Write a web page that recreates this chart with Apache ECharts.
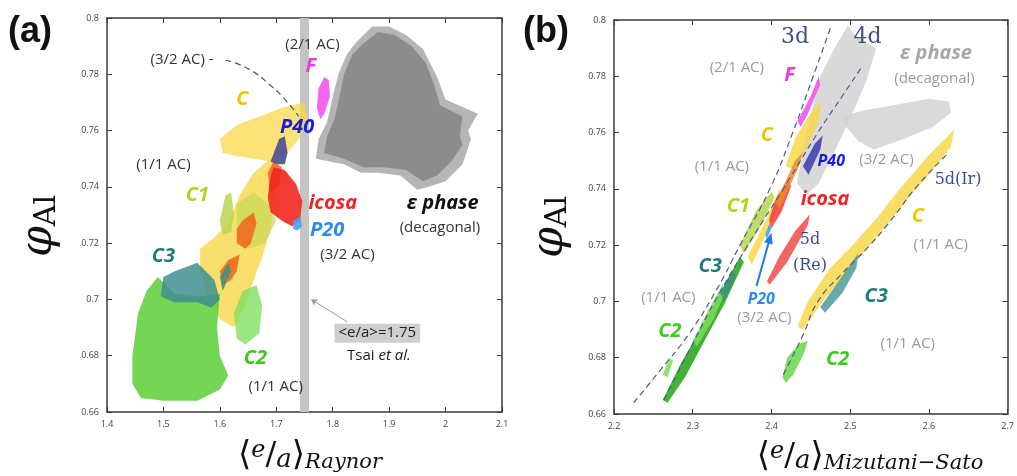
<!DOCTYPE html>
<html>
<head>
<meta charset="utf-8">
<script src="https://cdn.jsdelivr.net/npm/echarts@6/dist/echarts.min.js"></script>
<style>
  html, body { margin: 0; background: #fff; }
  #chart { width: 1017px; height: 476px; }
</style>
</head>
<body>
<div id="chart"></div>
<script>
// ---- panel (a): Raynor e/a vs phi_Al ----
const xTicksA = [1.4, 2.1, 0.1];
const yTicks = [0.66, 0.8, 0.02];

const epsOuterA = [[1.84,0.791],[1.87,0.797],[1.9,0.797],[1.93,0.794],[1.96,0.789],[1.985,0.779],[2.0,0.771],[2.057,0.766],[2.04,0.76],[2.045,0.757],[2.03,0.748],[2.0,0.742],[1.97,0.74],[1.95,0.739],[1.92,0.744],[1.88,0.745],[1.85,0.745],[1.82,0.748],[1.77,0.75],[1.775,0.757],[1.79,0.763],[1.8,0.772],[1.81,0.78],[1.825,0.787]];
const epsInnerA = [[1.855,0.791],[1.88,0.795],[1.91,0.794],[1.94,0.79],[1.965,0.784],[1.98,0.776],[1.99,0.769],[2.03,0.765],[2.025,0.758],[2.03,0.755],[2.01,0.749],[1.985,0.744],[1.96,0.742],[1.93,0.746],[1.89,0.747],[1.855,0.747],[1.82,0.75],[1.785,0.752],[1.79,0.758],[1.803,0.764],[1.812,0.772],[1.82,0.78],[1.835,0.787]];
const bandA = [[1.742,0.66],[1.758,0.66],[1.758,0.8],[1.742,0.8]];
const phaseFA = [[1.785,0.779],[1.793,0.778],[1.795,0.772],[1.785,0.766],[1.778,0.764],[1.772,0.768],[1.775,0.775]];
const yellowTopA = [[1.6,0.757],[1.63,0.762],[1.67,0.765],[1.71,0.768],[1.75,0.77],[1.755,0.764],[1.74,0.757],[1.72,0.752],[1.69,0.749],[1.66,0.75],[1.63,0.751],[1.605,0.752]];
const yellowBandA = [[1.66,0.745],[1.69,0.75],[1.705,0.745],[1.695,0.735],[1.69,0.725],[1.675,0.715],[1.66,0.707],[1.645,0.698],[1.625,0.69],[1.6,0.693],[1.58,0.7],[1.565,0.71],[1.565,0.718],[1.59,0.722],[1.615,0.727],[1.635,0.737]];
const c1BandA = [[1.63,0.734],[1.66,0.738],[1.69,0.733],[1.7,0.728],[1.68,0.72],[1.65,0.718],[1.63,0.722]];
const c1SmallA = [[1.6,0.728],[1.61,0.737],[1.62,0.738],[1.625,0.73],[1.62,0.724],[1.605,0.723]];
const orange1A = [[1.64,0.728],[1.66,0.731],[1.665,0.727],[1.655,0.72],[1.645,0.718],[1.63,0.72],[1.63,0.725]];
const orange2A = [[1.6,0.71],[1.615,0.714],[1.635,0.716],[1.63,0.71],[1.62,0.707],[1.605,0.705]];
const orange3A = [[1.685,0.745],[1.695,0.749],[1.71,0.747],[1.705,0.74],[1.69,0.738]];
const icosaA = [[1.695,0.747],[1.715,0.746],[1.735,0.741],[1.746,0.735],[1.742,0.728],[1.728,0.726],[1.71,0.728],[1.69,0.731],[1.685,0.736],[1.688,0.742]];
const p20A = [[1.73,0.728],[1.742,0.7295],[1.746,0.726],[1.738,0.7245],[1.73,0.725]];
const p40A = [[1.69,0.749],[1.705,0.757],[1.715,0.758],[1.72,0.752],[1.715,0.748],[1.7,0.748]];
const c2BigA = [[1.49,0.708],[1.52,0.702],[1.56,0.701],[1.6,0.702],[1.595,0.69],[1.6,0.68],[1.615,0.673],[1.6,0.668],[1.56,0.664],[1.5,0.664],[1.46,0.665],[1.445,0.67],[1.445,0.68],[1.455,0.695],[1.47,0.703]];
const c3A = [[1.5,0.708],[1.52,0.71],[1.56,0.713],[1.59,0.707],[1.6,0.7],[1.585,0.697],[1.56,0.699],[1.52,0.699],[1.495,0.701]];
const c3StripA = [[1.6,0.708],[1.615,0.713],[1.62,0.71],[1.605,0.703]];
const c2SmallA = [[1.64,0.703],[1.665,0.705],[1.675,0.698],[1.67,0.688],[1.645,0.684],[1.63,0.686],[1.625,0.695]];
const dashA = [[1.61,0.785],[1.65,0.782],[1.69,0.776],[1.72,0.77],[1.74,0.765]];

const acLabelsA = [[1.764,0.7905,'(2/1 AC)'],[1.5,0.748,'(1/1 AC)'],[1.826,0.716,'(3/2 AC)'],[1.699,0.669,'(1/1 AC)'],[1.533,0.785,'(3/2 AC) -'],[1.99,0.7255,'(decagonal)']];

// ---- panel (b): Mizutani-Sato e/a vs phi_Al ----
const xTicksB = [2.2, 2.7, 0.1];

const line3d = [[2.225,0.664],[2.26,0.676],[2.294,0.688],[2.33,0.704],[2.36,0.72],[2.398,0.74],[2.427,0.76],[2.453,0.78],[2.476,0.798]];
const line4d = [[2.263,0.665],[2.3,0.685],[2.328,0.7],[2.37,0.72],[2.415,0.74],[2.459,0.76],[2.49,0.773],[2.514,0.783]];
const line5d = [[2.415,0.674],[2.44,0.688],[2.459,0.7],[2.49,0.71],[2.525,0.72],[2.555,0.73],[2.582,0.74],[2.622,0.752]];

const epsBlobB = [[2.49,0.766],[2.52,0.768],[2.56,0.77],[2.6,0.772],[2.625,0.771],[2.628,0.767],[2.605,0.762],[2.57,0.758],[2.53,0.754],[2.51,0.757],[2.495,0.762]];
const epsStreakB = [[2.432,0.742],[2.445,0.76],[2.462,0.78],[2.48,0.79],[2.497,0.798],[2.505,0.795],[2.52,0.792],[2.533,0.79],[2.52,0.778],[2.5,0.765],[2.478,0.752],[2.46,0.742],[2.445,0.738]];
const phaseFB = [[2.433,0.764],[2.45,0.773],[2.46,0.78],[2.462,0.777],[2.445,0.766],[2.437,0.762]];
const yellowTopB = [[2.418,0.748],[2.43,0.758],[2.45,0.767],[2.463,0.771],[2.46,0.764],[2.445,0.755],[2.428,0.747]];
const yellowLowB = [[2.433,0.691],[2.446,0.7],[2.475,0.712],[2.503,0.72],[2.535,0.73],[2.563,0.74],[2.6,0.752],[2.632,0.761],[2.628,0.755],[2.6,0.745],[2.584,0.74],[2.555,0.73],[2.525,0.72],[2.495,0.71],[2.465,0.7],[2.44,0.69]];
const yellowMidB = [[2.37,0.716],[2.395,0.73],[2.41,0.74],[2.413,0.737],[2.395,0.725],[2.375,0.713]];
const c3RightB = [[2.462,0.698],[2.48,0.705],[2.5,0.713],[2.51,0.717],[2.508,0.712],[2.49,0.703],[2.468,0.696]];
const c2RightB = [[2.414,0.673],[2.42,0.68],[2.435,0.685],[2.446,0.686],[2.442,0.682],[2.428,0.674],[2.418,0.671]];
const re5dB = [[2.394,0.707],[2.41,0.716],[2.43,0.725],[2.449,0.731],[2.446,0.727],[2.42,0.714],[2.398,0.706]];
const icosaB = [[2.397,0.729],[2.405,0.736],[2.42,0.743],[2.425,0.741],[2.413,0.732],[2.4,0.726]];
const orangeB = [[2.405,0.735],[2.43,0.75],[2.44,0.753],[2.435,0.748],[2.41,0.733]];
const p40B = [[2.44,0.748],[2.455,0.756],[2.465,0.759],[2.462,0.754],[2.447,0.745]];
const c1B = [[2.36,0.72],[2.38,0.732],[2.4,0.739],[2.404,0.737],[2.385,0.726],[2.365,0.717]];
const c2StrandB = [[2.262,0.665],[2.285,0.678],[2.31,0.69],[2.335,0.703],[2.36,0.716],[2.365,0.714],[2.34,0.699],[2.315,0.686],[2.29,0.673],[2.268,0.664]];
const c2LightB = [[2.3,0.686],[2.32,0.697],[2.338,0.706],[2.341,0.703],[2.325,0.693],[2.305,0.684]];
const c2SmallB = [[2.262,0.674],[2.27,0.68],[2.275,0.679],[2.268,0.673]];
const c3LeftB = [[2.335,0.703],[2.35,0.711],[2.355,0.709],[2.34,0.7]];
const p20B = [[2.392,0.724],[2.398,0.728],[2.4,0.726],[2.394,0.722]];

const acLabelsB = [[2.356,0.783,'(2/1 AC)'],[2.337,0.748,'(1/1 AC)'],[2.546,0.7504,'(3/2 AC)'],[2.615,0.7203,'(1/1 AC)'],[2.269,0.7013,'(1/1 AC)'],[2.391,0.6943,'(3/2 AC)'],[2.573,0.6848,'(1/1 AC)'],[2.607,0.779,'(decagonal)']];
const dLabelsB = [[2.43,0.794,'3d'],[2.522,0.794,'4d']];
const dSmallLabelsB = [[2.637,0.7433,'5d(Ir)'],[2.449,0.722,'5d'],[2.449,0.7126,'(Re)']];

const chart = echarts.init(document.getElementById('chart'));

function poly(g, pts, color, opacity, z) {
  return {
    type: 'custom', xAxisIndex: g * 2, yAxisIndex: g * 2, z: z || 2, silent: true,
    data: pts,
    renderItem: (params, api) => {
      if (params.dataIndex !== 0) return;
      return {
        type: 'polygon',
        shape: { points: pts.map(p => api.coord(p)) },
        style: { fill: color, opacity: opacity }
      };
    }
  };
}

function labels(g, items, font, color, extra) {
  return {
    type: 'custom', xAxisIndex: g * 2, yAxisIndex: g * 2, z: 10, silent: true,
    data: items.map(d => [d[0], d[1]]),
    renderItem: (params, api) => {
      const it = items[params.dataIndex];
      const c = api.coord([it[0], it[1]]);
      return {
        type: 'text', x: c[0], y: c[1],
        style: Object.assign({ text: it[2], font: font, fill: color, align: 'center', verticalAlign: 'middle' }, extra || {})
      };
    }
  };
}

function dashed(g, pts, color, markLine) {
  const s = {
    type: 'line', xAxisIndex: g * 2, yAxisIndex: g * 2, data: pts, smooth: true, symbol: 'none', z: 6,
    lineStyle: { color: color, width: 1.2, type: [6, 4] }, silent: true
  };
  if (markLine) s.markLine = markLine;
  return s;
}

const frame = '#3a3a3a';
function xAx(g, t, pos) {
  return {
    type: 'value', gridIndex: g, min: t[0], max: t[1], interval: t[2], position: pos,
    axisLine: { show: true, onZero: false, lineStyle: { color: frame, width: 1.5 } },
    axisTick: { show: true, inside: true, length: 5, lineStyle: { color: frame } },
    axisLabel: { show: pos === 'bottom', fontSize: 9, color: '#444', margin: 8, fontFamily: 'Open Sans' },
    splitLine: { show: false }
  };
}
function yAx(g, pos) {
  return {
    type: 'value', gridIndex: g, min: yTicks[0], max: yTicks[1], interval: yTicks[2], position: pos,
    axisLine: { show: true, onZero: false, lineStyle: { color: frame, width: 1.5 } },
    axisTick: { show: true, inside: true, length: 5, lineStyle: { color: frame } },
    axisLabel: { show: pos === 'left', fontSize: 9, color: '#444', margin: 8, fontFamily: 'Open Sans' },
    splitLine: { show: false }
  };
}

const BI = 'italic bold 20px "Open Sans"';
const ac = '15px "Open Sans"';

const series = [
  // panel a
  poly(0, epsOuterA, '#b5b5b5', 1, 1),
  poly(0, epsInnerA, '#8c8c8c', 1, 1),
  poly(0, bandA, '#c4c4c4', 1, 1),
  poly(0, phaseFA, '#f25cf0', 0.95),
  poly(0, yellowTopA, '#f8d84a', 0.75),
  poly(0, yellowBandA, '#f8d84a', 0.8),
  poly(0, c1BandA, '#c9d855', 0.7),
  poly(0, c1SmallA, '#b8d64c', 0.85),
  poly(0, orange1A, '#f0641e', 0.85),
  poly(0, orange2A, '#f0641e', 0.85),
  poly(0, orange3A, '#f06a1e', 0.9),
  poly(0, icosaA, '#f2281e', 0.9),
  poly(0, p20A, '#4aa0f0', 0.9),
  poly(0, p40A, '#535593', 0.95),
  poly(0, c2BigA, '#5ccf36', 0.85),
  poly(0, c3A, '#3f8f90', 0.85),
  poly(0, c3StripA, '#3f8f80', 0.85),
  poly(0, c2SmallA, '#7bdc5a', 0.75),
  dashed(0, dashA, '#555', {
    silent: true, symbol: ['none', 'arrow'], symbolSize: 6, label: { show: false },
    lineStyle: { color: '#999', width: 1, type: 'solid', curveness: 0.35 },
    data: [[{ coord: [1.826, 0.692] }, { coord: [1.762, 0.7] }]]
  }),
  labels(0, acLabelsA, ac, '#333'),
  labels(0, [[1.761, 0.783, 'F']], BI, '#e63be3'),
  labels(0, [[1.64, 0.771, 'C']], BI, '#f2c400'),
  labels(0, [[1.737, 0.761, 'P40']], BI, '#1a1ae0'),
  labels(0, [[1.56, 0.737, 'C1']], BI, '#b4d21e'),
  labels(0, [[1.80, 0.734, 'icosa']], BI, '#f02222'),
  labels(0, [[1.79, 0.7245, 'P20']], BI, '#2a8cf0'),
  labels(0, [[1.5, 0.7155, 'C3']], BI, '#1e7a78'),
  labels(0, [[1.663, 0.679, 'C2']], BI, '#3cc81e'),
  labels(0, [[1.995, 0.734, 'ε phase']], BI, '#111'),
  labels(0, [[1.879, 0.688, '<e/a>=1.75']], ac, '#222', { backgroundColor: '#cfcfcf', padding: [2, 4] }),
  labels(0, [[1.882, 0.68, '{n|Tsai }{i|et al.}']], ac, '#222', {
    rich: { n: { font: ac, fill: '#222' }, i: { font: 'italic 15px "Open Sans"', fill: '#222' } }
  }),

  // panel b
  poly(1, epsStreakB, '#cccccc', 0.75, 1),
  poly(1, epsBlobB, '#d3d3d3', 0.85, 1),
  poly(1, phaseFB, '#f25cf0', 0.95),
  poly(1, yellowTopB, '#f8d84a', 0.85),
  poly(1, yellowLowB, '#f8d84a', 0.85),
  poly(1, yellowMidB, '#f8d84a', 0.85),
  poly(1, c3RightB, '#4d9a9a', 0.85),
  poly(1, c2RightB, '#6ad64a', 0.85),
  poly(1, re5dB, '#f24a4a', 0.85),
  poly(1, icosaB, '#f23a3a', 0.85),
  poly(1, orangeB, '#f08a2a', 0.85),
  poly(1, p40B, '#3a3ab0', 0.85),
  poly(1, c1B, '#b8d64c', 0.85),
  poly(1, c2StrandB, '#2ea81e', 0.9),
  poly(1, c2LightB, '#7bdc5a', 0.85),
  poly(1, c2SmallB, '#7bdc5a', 0.85),
  poly(1, c3LeftB, '#3f8f80', 0.85),
  poly(1, p20B, '#4aa0f0', 0.9),
  dashed(1, line3d, '#4a5c98', {
    silent: true, symbol: ['none', 'triangle'], symbolSize: [9, 11], label: { show: false },
    lineStyle: { color: '#1e7af0', width: 2, type: 'solid', curveness: 0 },
    data: [[{ coord: [2.381, 0.7055] }, { coord: [2.398, 0.7225] }]]
  }),
  dashed(1, line4d, '#4a5c98'),
  dashed(1, line5d, '#4a5c98'),
  labels(1, acLabelsB, ac, '#9a9a9a'),
  labels(1, dLabelsB, '22px "DejaVu Serif"', '#3f4f88'),
  labels(1, dSmallLabelsB, '16px "DejaVu Serif"', '#3f4f88'),
  labels(1, [[2.423, 0.7805, 'F']], BI, '#e63be3'),
  labels(1, [[2.394, 0.7592, 'C'], [2.586, 0.7303, 'C']], BI, '#f2c400'),
  labels(1, [[2.476, 0.7498, 'P40']], 'italic bold 16px "Open Sans"', '#1a1ae0'),
  labels(1, [[2.358, 0.7338, 'C1']], BI, '#b4d21e'),
  labels(1, [[2.468, 0.7362, 'icosa']], BI, '#f02222'),
  labels(1, [[2.322, 0.7126, 'C3'], [2.533, 0.702, 'C3']], BI, '#1e7a78'),
  labels(1, [[2.387, 0.7008, 'P20']], 'italic bold 16px "Open Sans"', '#2a8cf0'),
  labels(1, [[2.271, 0.6895, 'C2'], [2.484, 0.6795, 'C2']], BI, '#3cc81e'),
  labels(1, [[2.609, 0.788, 'ε phase']], BI, '#a8a8a8')
];

const phiRich = {
  p: { font: 'italic 44px "DejaVu Serif"', fill: '#111' },
  s: { font: '30px "DejaVu Serif"', fill: '#111', verticalAlign: 'bottom', padding: [14, 0, 0, 0] }
};
const eaRich = {
  l: { font: '34px "DejaVu Serif"', fill: '#111' },
  e: { font: 'italic 24px "DejaVu Serif"', fill: '#111', verticalAlign: 'top' },
  s: { font: '32px "DejaVu Serif"', fill: '#111' },
  a: { font: 'italic 26px "DejaVu Serif"', fill: '#111', verticalAlign: 'bottom' },
  sub: { font: 'italic 21px "DejaVu Serif"', fill: '#111', verticalAlign: 'bottom' }
};

chart.setOption({
  animation: false,
  grid: [
    { left: 107, top: 18, width: 395, height: 394 },
    { left: 614, top: 20, width: 395, height: 394 }
  ],
  xAxis: [xAx(0, xTicksA, 'bottom'), xAx(0, xTicksA, 'top'), xAx(1, xTicksB, 'bottom'), xAx(1, xTicksB, 'top')],
  yAxis: [yAx(0, 'left'), yAx(0, 'right'), yAx(1, 'left'), yAx(1, 'right')],
  graphic: [
    { type: 'text', left: 8, top: 14, style: { text: '(a)', font: 'bold 36px "Liberation Sans"', fill: '#111' } },
    { type: 'text', left: 523, top: 14, style: { text: '(b)', font: 'bold 36px "Liberation Sans"', fill: '#111' } },
    { type: 'text', x: 40, y: 226, rotation: Math.PI / 2, style: { text: '{p|φ}{s|Al}', rich: phiRich, align: 'center', verticalAlign: 'middle' } },
    { type: 'text', x: 551, y: 227, rotation: Math.PI / 2, style: { text: '{p|φ}{s|Al}', rich: phiRich, align: 'center', verticalAlign: 'middle' } },
    { type: 'text', x: 310, y: 456, style: { text: '{l|⟨}{e|e}{s|/}{a|a}{l|⟩}{sub|Raynor}', rich: eaRich, align: 'center', verticalAlign: 'middle' } },
    { type: 'text', x: 870, y: 457, style: { text: '{l|⟨}{e|e}{s|/}{a|a}{l|⟩}{sub|Mizutani−Sato}', rich: eaRich, align: 'center', verticalAlign: 'middle' } }
  ],
  series: series
});
</script>
</body>
</html>
